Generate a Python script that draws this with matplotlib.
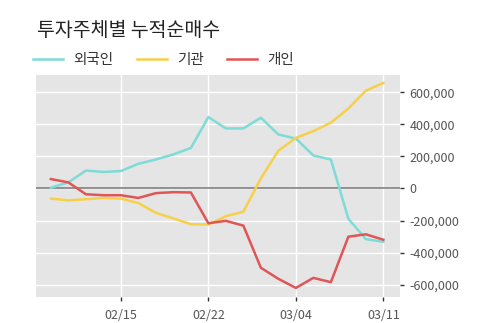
import matplotlib
matplotlib.use("Agg")
import matplotlib.pyplot as plt
from matplotlib.ticker import FuncFormatter
from matplotlib.lines import Line2D

plt.rcParams['font.family'] = ['Noto Sans CJK KR', 'DejaVu Sans']

title = "투자주체별 누적순매수"
series_names = ["외국인", "기관", "개인"]
tick_positions = [4, 9, 14, 19]
tick_labels = ["02/15", "02/22", "03/04", "03/11"]

foreign = [5000, 38000, 112000, 103000, 109000, 154000, 181000, 213000, 253000, 446000,
           375000, 375000, 442000, 337000, 312000, 206000, 181000, -189000, -316000, -333000]
institution = [-63000, -74000, -67000, -59000, -63000, -91000, -152000, -187000, -223000, -225000,
               -173000, -145000, 63000, 236000, 316000, 358000, 411000, 499000, 611000, 659000]
individual = [59000, 38000, -36000, -42000, -42000, -59000, -29000, -23000, -25000, -217000,
              -202000, -232000, -495000, -564000, -621000, -558000, -585000, -301000, -286000, -320000]

colors = ["#7ddcd8", "#f7d04a", "#e05555"]
yticks = [-600000, -400000, -200000, 0, 200000, 400000, 600000]

fig = plt.figure(figsize=(5, 3.23), dpi=100)
ax = fig.add_axes([0.072, 0.0805, 0.728, 0.687])
ax.set_facecolor("#e5e5e5")

x = list(range(len(foreign)))
for data, c in zip([foreign, institution, individual], colors):
    ax.plot(x, data, color=c, linewidth=1.8, zorder=3)

ax.axhline(0, color="#808080", linewidth=1.2, zorder=2)

ax.set_xlim(-0.85, 19.95)
ax.set_ylim(-677500, 708000)
ax.set_xticks(tick_positions)
ax.set_xticklabels(tick_labels)
ax.set_yticks(yticks)
ax.yaxis.set_major_formatter(FuncFormatter(lambda v, p: f"{int(v):,}"))
ax.yaxis.tick_right()
ax.grid(True, color="white", linewidth=1.0, zorder=1)
ax.set_axisbelow(True)
for s in ax.spines.values():
    s.set_visible(False)
ax.tick_params(axis='both', colors="#333333", labelcolor="#555555", labelsize=9,
               length=3, width=1)
ax.tick_params(axis='y', pad=4)
ax.tick_params(axis='x', pad=6)

fig.text(0.074, 0.905, title, fontsize=14, color="#222222", va="center", ha="left")

handles = [Line2D([0], [0], color=c, linewidth=1.8) for c in colors]
fig.legend(handles, series_names, loc="center left", bbox_to_anchor=(0.04, 0.815),
           ncol=3, frameon=False, fontsize=10.5, handlelength=2.05, columnspacing=1.6,
           handletextpad=0.7, labelcolor="#333333")

fig.savefig("out.png", dpi=100)
